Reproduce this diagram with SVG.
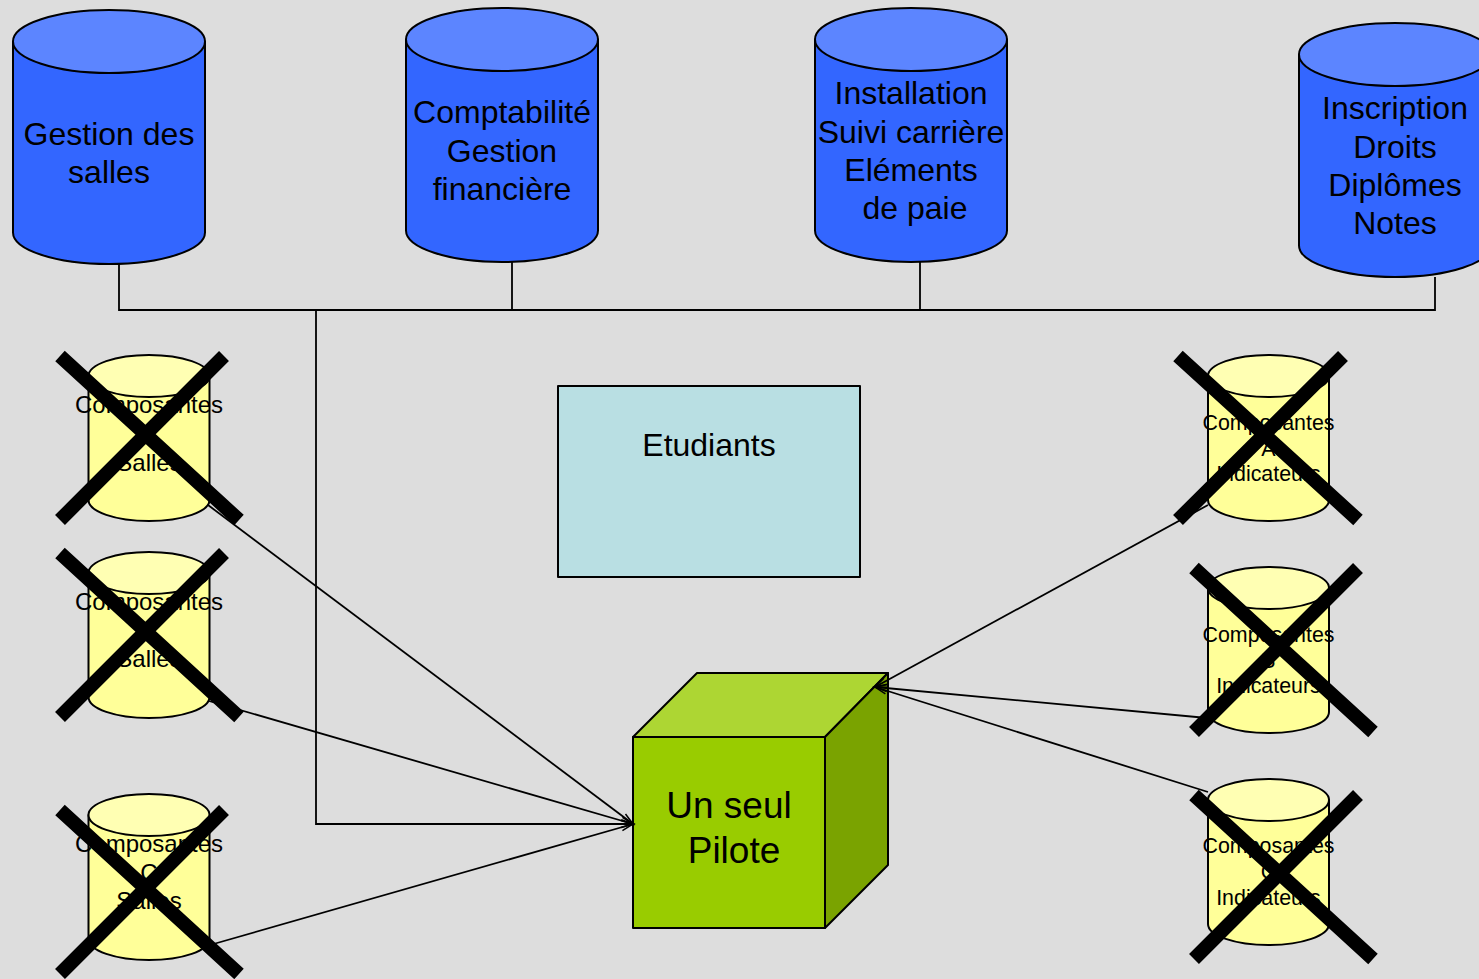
<svg xmlns="http://www.w3.org/2000/svg" width="1479" height="979" viewBox="0 0 1479 979">
<style>
text{font-family:"Liberation Sans",Arial,sans-serif;fill:#000;text-anchor:middle}
.o{stroke:#000;stroke-width:2;stroke-linejoin:round}
.blue{fill:#3366FF}.bluetop{fill:#5C85FF}
.yel{fill:#FFFF99}.yeltop{fill:#FFFFB3}
.big{font-size:32px}.sm{font-size:24px}.smr{font-size:21.4px}
.line{fill:none;stroke:#000;stroke-width:1.8}
.x{stroke:#000;stroke-width:14;fill:none}
</style>
<defs>
<marker id="open" markerUnits="userSpaceOnUse" markerWidth="16" markerHeight="12" refX="13" refY="6" orient="auto">
<path d="M1 2.500L13 6L1 9.500" fill="none" stroke="#000" stroke-width="1.5"/>
</marker>
</defs>
<rect width="1479" height="979" fill="#DDDDDD"/>
<g id="n-salles">
<path class="o blue" d="M13 41.500V232.500A96 31.500 0 0 0 205 232.500V41.500Z"/><ellipse class="o bluetop" cx="109" cy="41.500" rx="96" ry="31.500"/>
<text class="big"><tspan x="109" y="145">Gestion des</tspan><tspan x="109" y="183">salles</tspan></text>
</g>
<g id="n-compta">
<path class="o blue" d="M406 39.500V230.500A96 31.500 0 0 0 598 230.500V39.500Z"/><ellipse class="o bluetop" cx="502" cy="39.500" rx="96" ry="31.500"/>
<text class="big"><tspan x="502" y="123">Comptabilité</tspan><tspan x="502" y="162">Gestion</tspan><tspan x="502" y="200">financière</tspan></text>
</g>
<g id="n-install">
<path class="o blue" d="M815 39.500V230.500A96 31.500 0 0 0 1007 230.500V39.500Z"/><ellipse class="o bluetop" cx="911" cy="39.500" rx="96" ry="31.500"/>
<text class="big"><tspan x="911" y="104">Installation</tspan><tspan x="911" y="143">Suivi carrière</tspan><tspan x="911" y="181">Eléments</tspan><tspan x="915" y="219">de paie</tspan></text>
</g>
<g id="n-inscr">
<path class="o blue" d="M1299 54.500V245.500A96 31.500 0 0 0 1491 245.500V54.500Z"/><ellipse class="o bluetop" cx="1395" cy="54.500" rx="96" ry="31.500"/>
<text class="big"><tspan x="1395" y="119">Inscription</tspan><tspan x="1395" y="158">Droits</tspan><tspan x="1395" y="196">Diplômes</tspan><tspan x="1395" y="234">Notes</tspan></text>
</g>
<g id="n-etud">
<rect class="o" x="558" y="386" width="302" height="191" fill="#B9DFE3"/>
<text class="big" x="709" y="456">Etudiants</text>
</g>
<g id="n-pilote">
<path class="o" fill="#ADD633" d="M633 737L697 673H888L825 737Z"/>
<path class="o" fill="#7AA300" d="M825 737L888 673V865L825 928Z"/>
<rect class="o" x="633" y="737" width="192" height="191" fill="#99CC00"/>
<text font-size="37"><tspan x="729" y="818">Un seul</tspan><tspan x="734" y="863">Pilote</tspan></text>
</g>
<g id="connectors">
<path class="line" d="M119 264V310H1435V277M512 262V310M920 262V310"/>
<path class="line" d="M316 310V824H633" marker-end="url(#open)"/>
<path class="line" d="M208 505L633 824" marker-end="url(#open)"/>
<path class="line" d="M209 701L633 824" marker-end="url(#open)"/>
<path class="line" d="M210 945L633 824" marker-end="url(#open)"/>
<path class="line" d="M1208 505L875 687" marker-end="url(#open)"/>
<path class="line" d="M1207 718L875 687" marker-end="url(#open)"/>
<path class="line" d="M1208 792L875 687" marker-end="url(#open)"/>
</g>
<g id="n-ca">
<path class="o yel" d="M88.500 376V500A60.500 21 0 0 0 209.500 500V376Z"/><ellipse class="o yeltop" cx="149" cy="376" rx="60.500" ry="21"/>
<text class="sm"><tspan x="149" y="413">Composantes</tspan><tspan x="149" y="442">A</tspan><tspan x="149" y="471">Salles</tspan></text>
<path class="x" d="M60 356L239 520M224 356L60 520"/>
</g>
<g id="n-cb">
<path class="o yel" d="M88.500 573V697A60.500 21 0 0 0 209.500 697V573Z"/><ellipse class="o yeltop" cx="149" cy="573" rx="60.500" ry="21"/>
<text class="sm"><tspan x="149" y="610">Composantes</tspan><tspan x="149" y="639">B</tspan><tspan x="149" y="667">Salles</tspan></text>
<path class="x" d="M60 553L239 717M224 553L60 717"/>
</g>
<g id="n-cc">
<path class="o yel" d="M88.500 815V939A60.500 21 0 0 0 209.500 939V815Z"/><ellipse class="o yeltop" cx="149" cy="815" rx="60.500" ry="21"/>
<text class="sm"><tspan x="149" y="852">Composantes</tspan><tspan x="149" y="881">C</tspan><tspan x="149" y="909">Salles</tspan></text>
<path class="x" d="M60 810L239 974M224 810L60 974"/>
</g>
<g id="n-ia">
<path class="o yel" d="M1208 376V500A60.500 21 0 0 0 1329 500V376Z"/><ellipse class="o yeltop" cx="1268.500" cy="376" rx="60.500" ry="21"/>
<text class="smr"><tspan x="1268.500" y="430">Composantes</tspan><tspan x="1268.500" y="456">A</tspan><tspan x="1268.500" y="481">Indicateurs</tspan></text>
<path class="x" d="M1178 356L1358 520M1343 356L1178 520"/>
</g>
<g id="n-ib">
<path class="o yel" d="M1208 588V712A60.500 21 0 0 0 1329 712V588Z"/><ellipse class="o yeltop" cx="1268.500" cy="588" rx="60.500" ry="21"/>
<text class="smr"><tspan x="1268.500" y="642">Composantes</tspan><tspan x="1268.500" y="668">B</tspan><tspan x="1268.500" y="693">Indicateurs</tspan></text>
<path class="x" d="M1194 568L1373 732M1358 568L1194 732"/>
</g>
<g id="n-ic">
<path class="o yel" d="M1208 800V924A60.500 21 0 0 0 1329 924V800Z"/><ellipse class="o yeltop" cx="1268.500" cy="800" rx="60.500" ry="21"/>
<text class="smr"><tspan x="1268.500" y="853">Composantes</tspan><tspan x="1268.500" y="879">C</tspan><tspan x="1268.500" y="905">Indicateurs</tspan></text>
<path class="x" d="M1194 795L1373 959M1358 795L1194 959"/>
</g>
</svg>
